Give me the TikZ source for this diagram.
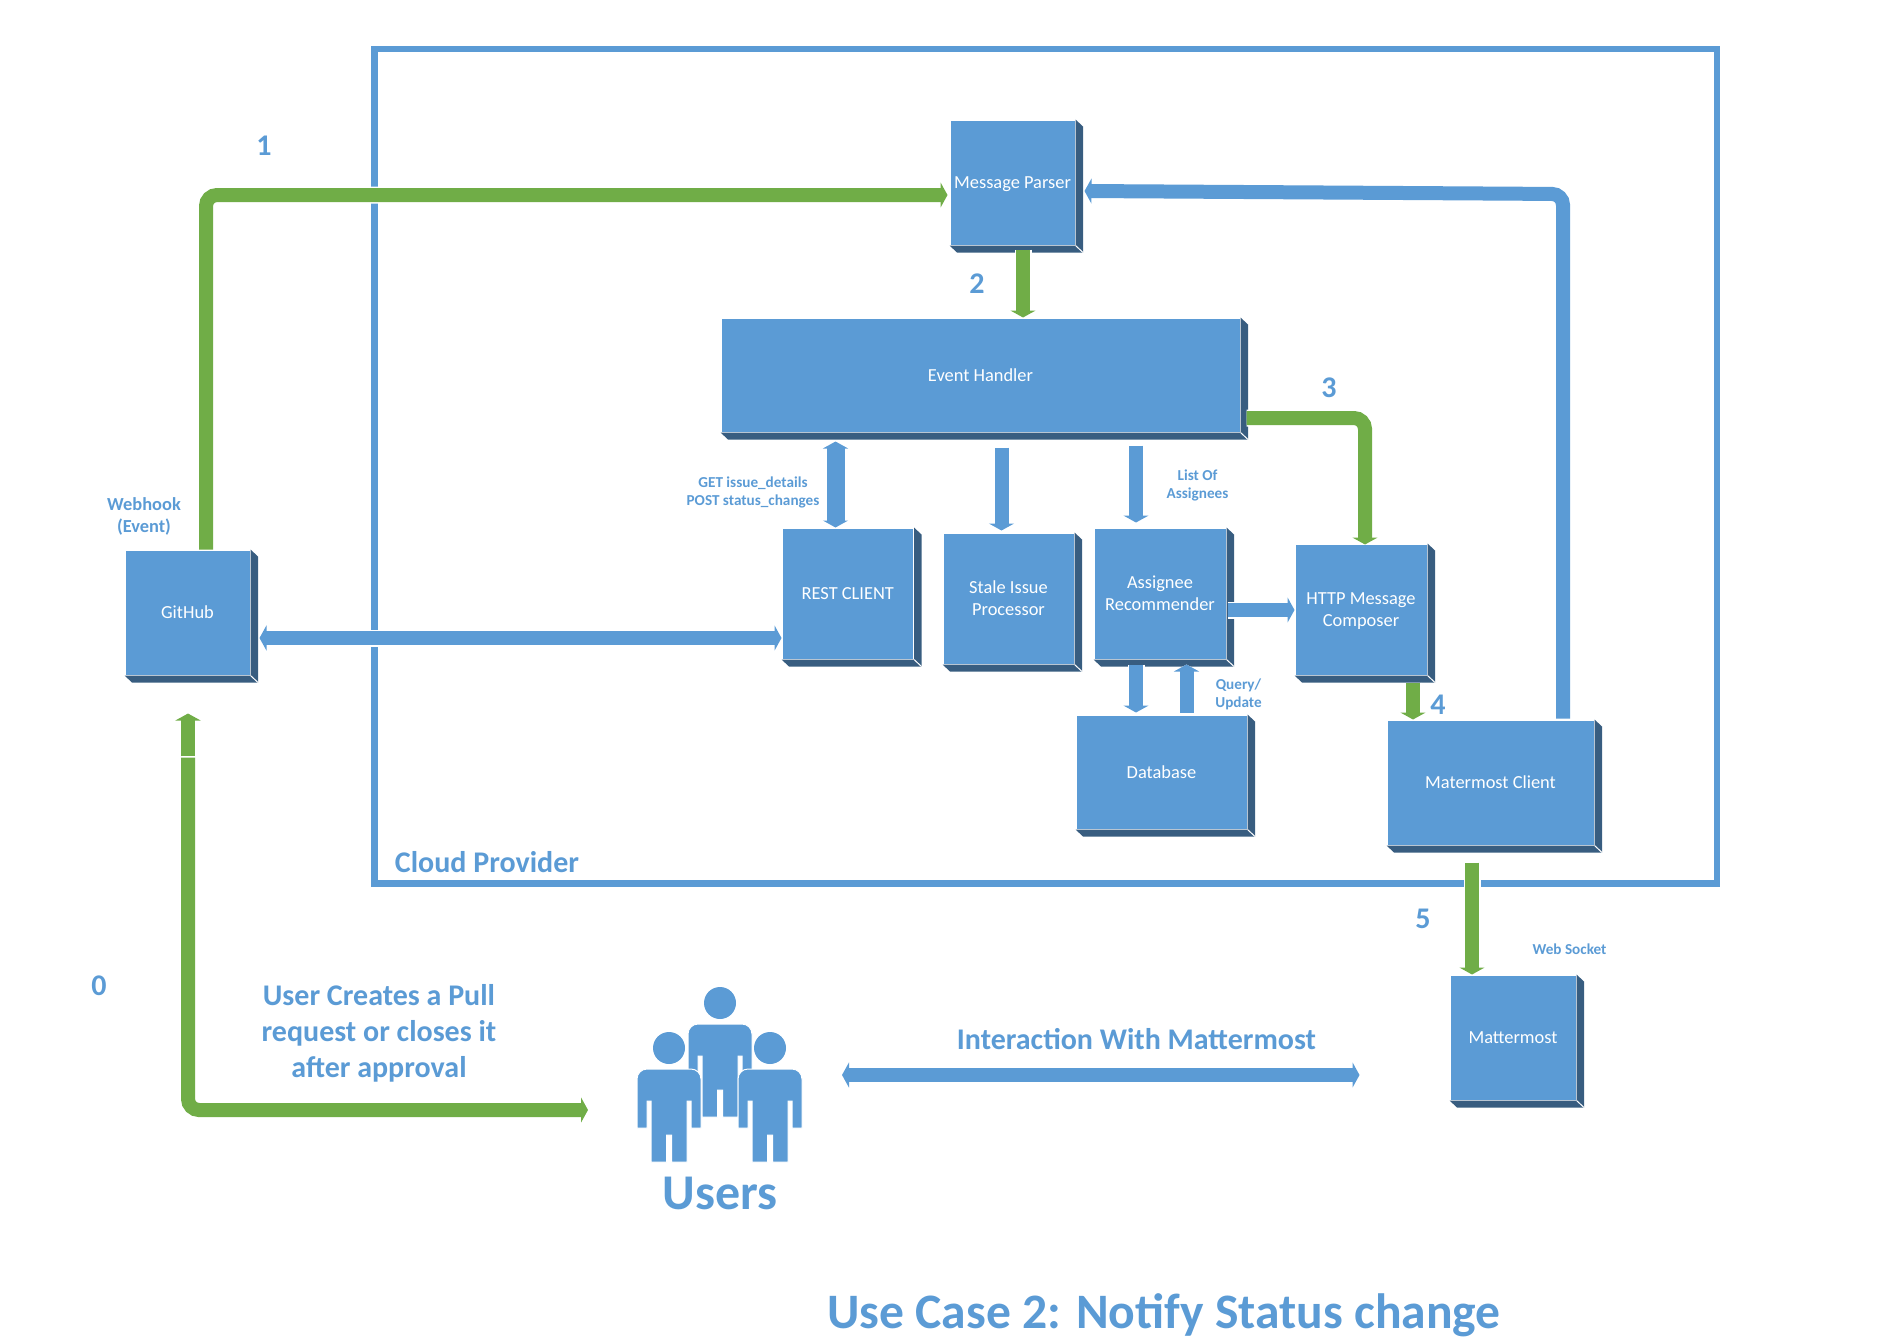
\documentclass[tikz,border=0pt]{standalone}
\usepackage{fontspec}
\setmainfont{Carlito}
\usetikzlibrary{arrows.meta}

\definecolor{boxblue}{HTML}{5B9BD5}
\definecolor{bevelblue}{HTML}{385D80}
\definecolor{flowgreen}{HTML}{70AD47}

\tikzset{
  blockbox/.style={rectangle, draw=white, line width=1pt, fill=boxblue, text=white, align=center,
    inner sep=0pt, font=\fontsize{18.4}{22}\selectfont},
  framebox/.style={rectangle, draw=boxblue, line width=6.5pt},
  flowarrow/.style={line width=14pt, >={Triangle[width=25pt,length=7pt]},
    preaction={draw=white, line width=17pt}},
  greenarrow/.style={flowarrow, draw=flowgreen},
  bluearrow/.style={flowarrow, draw=boxblue},
  stepnum/.style={text=boxblue, font=\bfseries\fontsize{30}{36}\selectfont, align=center},
  smalllabel/.style={text=boxblue, font=\bfseries\fontsize{15.2}{18}\selectfont, align=center},
  webhooklabel/.style={text=boxblue, font=\bfseries\fontsize{18.4}{22}\selectfont, align=center},
  person/.pic={
    \fill[boxblue] (0,0) circle (16);
    \path[fill=boxblue, draw=white, line width=1pt, rounded corners=10pt] (-32,40) -- (-32,21) -- (32,21) -- (32,40)
      [sharp corners] -- (32,80) -- (22,80) -- (22,53) -- (18,53) -- (18,114) -- (2.5,114) -- (2.5,87)
      -- (-2.5,87) -- (-2.5,114) -- (-18,114) -- (-18,53) -- (-22,53) -- (-22,80) -- (-32,80) -- cycle;
  }
}

\begin{document}
\begin{tikzpicture}[x=1pt,y=-1pt]
  \useasboundingbox (0,0) rectangle (1878,1341);

  % cloud frame
  \node (cloud) at (1045.75,466.25) [framebox, minimum width=1342.5pt, minimum height=834.5pt] {};
  \node (cloudlabel) at (487,862) [stepnum] {Cloud Provider};

  % blocks
  \node (github) at (187.5,612.5) [blockbox, minimum width=125pt, minimum height=125pt, text depth=-2pt] {GitHub};
  \node (parser) at (1012.5,182.5) [blockbox, minimum width=125pt, minimum height=125pt, text depth=-3pt] {Message Parser};
  \node (event) at (980.5,375) [blockbox, minimum width=519pt, minimum height=114pt] {Event Handler};
  \node (restclient) at (847.75,593.5) [blockbox, minimum width=131.5pt, minimum height=131pt] {REST CLIENT};
  \node (stale) at (1008.5,598.5) [blockbox, minimum width=131pt, minimum height=131pt, text depth=-2.4pt] {Stale Issue\\Processor};
  \node (assignee) at (1160,593.5) [blockbox, minimum width=132pt, minimum height=131pt, text depth=-2.4pt] {Assignee\\Recommender};
  \node (database) at (1161.5,772) [blockbox, minimum width=171pt, minimum height=114pt] {Database};
  \node (composer) at (1361,609.5) [blockbox, minimum width=132pt, minimum height=131pt, text depth=-2.5pt] {HTTP Message\\Composer};
  \node (matclient) at (1490.5,782.5) [blockbox, minimum width=207pt, minimum height=125pt, text depth=-2pt] {Matermost Client};
  \node (mattermost) at (1513,1037.5) [blockbox, minimum width=126pt, minimum height=125pt, text depth=-2pt] {Mattermost};

  % bevels
  \foreach \b in {github,parser,event,restclient,stale,assignee,database,composer,matclient,mattermost} {
    \fill[bevelblue] (\b.north east) -- ([shift={(7.5pt,-7pt)}]\b.north east) -- ([shift={(7.5pt,-7pt)}]\b.south east)
      -- ([shift={(7.5pt,-7pt)}]\b.south west) -- (\b.south west) -- (\b.south east) -- cycle;
    \draw[white, line width=1pt] (\b.south east) -- ([shift={(7.5pt,-7pt)}]\b.south east);
  }

  % users
  \pic at (720,1003) {person};
  \pic at (669,1048) {person};
  \pic at (770,1048) {person};
  \node (users) at (720,1193) [text=boxblue, font=\bfseries\fontsize{50}{56}\selectfont] {Users};
  \coordinate (usersleft) at (588,1110);
  \coordinate (usersright) at (842,1075);
  \coordinate (split) at (188,757);
  \coordinate (feedturn) at (1563,194);

  % green flow
  \draw[greenarrow, ->, rounded corners=11pt] ([xshift=18.5pt]github.north) |- ([xshift=-2pt,yshift=-12.5pt]parser.west);
  \draw[greenarrow, ->] ([xshift=10.5pt,yshift=-4pt]parser.south) -- ([xshift=42.5pt]event.north);
  \draw[greenarrow, ->, rounded corners=11pt] ([xshift=6pt,yshift=-43pt]event.east) -| ([xshift=4pt,yshift=-1pt]composer.north);
  \draw[greenarrow, ->] ([xshift=52pt,yshift=-7pt]composer.south) -- ([xshift=-77.5pt]matclient.north);
  \draw[greenarrow, ->] ([xshift=-18.5pt,yshift=-17pt]matclient.south) -- ([xshift=-41pt]mattermost.north);
  \draw[greenarrow, ->, rounded corners=11pt] ([yshift=-0.7pt]split) |- (usersleft);
  \draw[greenarrow, ->] ([yshift=0.7pt]split) -- ([xshift=0.5pt,yshift=-38pt]github.south);

  % blue flow
  \draw[bluearrow, <->] ([xshift=9pt,yshift=-25.5pt]github.east) -- ([yshift=-44.5pt]restclient.west);
  \draw[bluearrow, ->, rounded corners=11pt] ([xshift=72.5pt,yshift=1pt]matclient.north) -- (feedturn) -- ([xshift=9pt,yshift=-8.5pt]parser.east);
  \draw[bluearrow, <->, line width=18pt] ([xshift=-145pt,yshift=-9pt]event.south) -- ([xshift=-12.25pt]restclient.north);
  \draw[bluearrow, ->] ([xshift=21pt,yshift=-15pt]event.south) -- ([xshift=-7pt,yshift=2pt]stale.north);
  \draw[bluearrow, ->] ([xshift=155.5pt,yshift=-13pt]event.south) -- ([xshift=-24pt,yshift=5pt]assignee.north);
  \draw[bluearrow, ->] ([xshift=1pt,yshift=-16.5pt]assignee.east) -- ([yshift=-0.5pt]composer.west);
  \draw[bluearrow, ->] ([xshift=-24pt,yshift=-5pt]assignee.south) -- ([xshift=-25.5pt,yshift=2pt]database.north);
  \draw[bluearrow, ->] ([xshift=25pt,yshift=2pt]database.north) -- ([xshift=26.5pt,yshift=-5pt]assignee.south);
  \draw[bluearrow, <->] (usersright) -- ([xshift=-90pt,yshift=-37.5pt]mattermost.west);

  % step numbers
  \node (stepzero) at (99,986) [stepnum] {0};
  \node (stepone) at (264,146) [stepnum] {1};
  \node (steptwo) at (977,284) [stepnum] {2};
  \node (stepthree) at (1329,388) [stepnum] {3};
  \node (stepfour) at (1438,705) [stepnum] {4};
  \node (stepfive) at (1423,919) [stepnum] {5};

  % labels
  \node (webhook) at (144,516) [webhooklabel] {Webhook\\(Event)};
  \node (restlabel) at (753,492) [smalllabel] {GET issue\_details\\POST status\_changes};
  \node (listlabel) at (1197.5,485) [smalllabel] {List Of\\Assignees};
  \node (querylabel) at (1238.5,694) [smalllabel] {Query/\\Update};
  \node (socketlabel) at (1569.5,949) [smalllabel] {Web Socket};
  \node (pulllabel) at (379,1033) [stepnum] {User Creates a Pull\\request or closes it\\after approval};
  \node (chatlabel) at (1136.5,1039) [stepnum] {Interaction With Mattermost};
  \node (title) at (1164,1315) [text=boxblue, font=\bfseries\fontsize{49.6}{54}\selectfont] {Use Case 2: Notify Status change};
\end{tikzpicture}
\end{document}
